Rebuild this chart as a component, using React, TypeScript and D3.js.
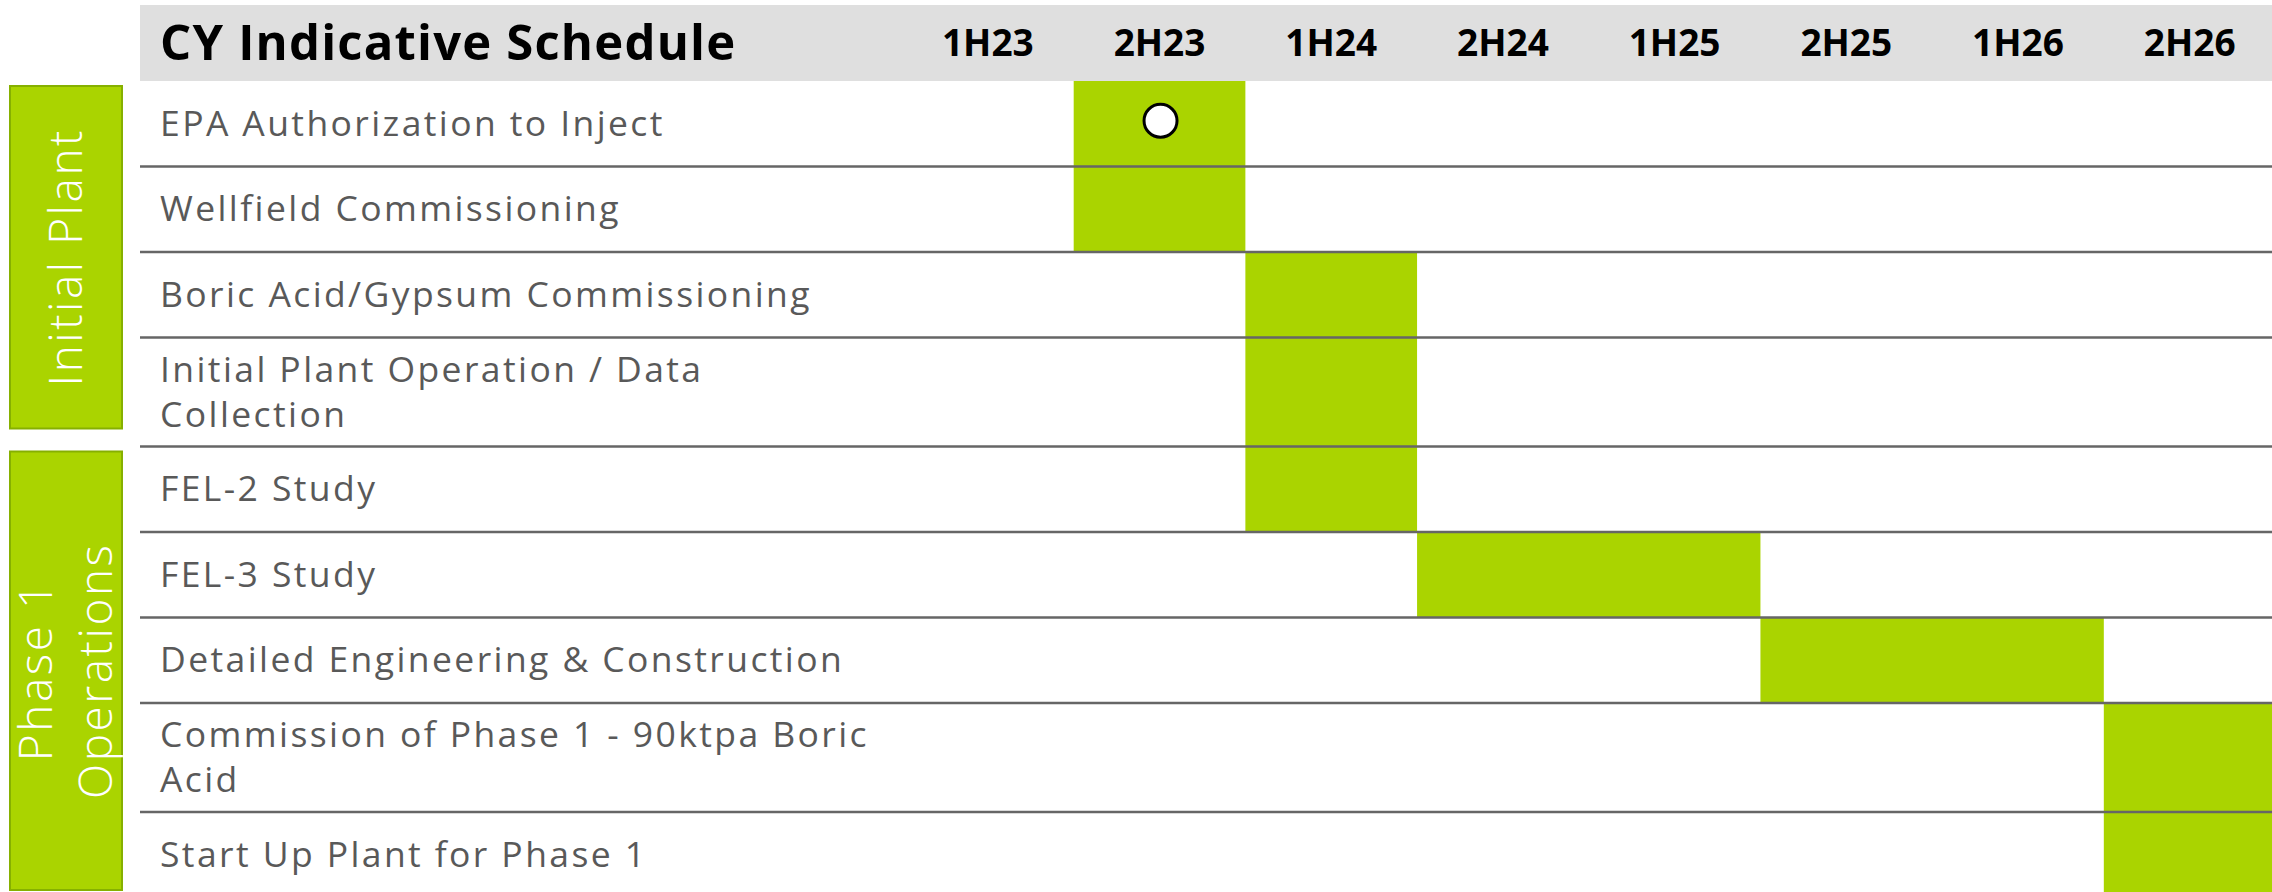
import React, { useRef, useEffect } from "react";
import * as d3 from "d3";

// periods on the timeline (header tick labels)
const periods = ["1H23", "2H23", "1H24", "2H24", "1H25", "2H25", "1H26", "2H26"];

// tasks, one row each
const taskLabels = [
  ["EPA Authorization to Inject"],
  ["Wellfield Commissioning"],
  ["Boric Acid/Gypsum Commissioning"],
  ["Initial Plant Operation / Data", "Collection"],
  ["FEL-2 Study"],
  ["FEL-3 Study"],
  ["Detailed Engineering & Construction"],
  ["Commission of Phase 1 - 90ktpa Boric", "Acid"],
  ["Start Up Plant for Phase 1"],
];
const taskStart = ["2H23", "2H23", "1H24", "1H24", "1H24", "2H24", "2H25", "2H26", "2H26"];
const taskEnd = ["2H23", "2H23", "1H24", "1H24", "1H24", "1H25", "1H26", "2H26", "2H26"];
const milestones = [true, false, false, false, false, false, false, false, false];

// phase groups on the left
const groupLabels = [["Initial Plant"], ["Phase 1", "Operations"]];
const groupFirst = [0, 4];
const groupLast = [3, 8];

const title = "CY Indicative Schedule";

const W = 2272,
  H = 892;
const GREEN = "#aad400";
const FONT = "'Open Sans', 'Noto Sans', sans-serif";

const App = () => {
  const svgRef = useRef<SVGSVGElement>(null);

  useEffect(() => {
    const svg = d3.select(svgRef.current);
    svg.selectAll("*").remove();

    const headerTop = 5,
      headerBottom = 81,
      tableLeft = 140,
      labelX = 160;

    // row heights depend on how many text lines
    const heights = taskLabels.map((l) => (l.length > 1 ? 109 : 85.5));
    const tops = heights.map((_, i) => headerBottom + d3.sum(heights.slice(0, i)));

    const x = d3.scaleBand().domain(periods).range([902, 2275.5]).padding(0);

    // header band
    svg
      .append("rect")
      .attr("x", tableLeft)
      .attr("y", headerTop)
      .attr("width", W - tableLeft)
      .attr("height", headerBottom - headerTop)
      .attr("fill", "#dfdfdf");

    svg
      .append("text")
      .attr("x", labelX)
      .attr("y", 60)
      .attr("font-family", FONT)
      .attr("font-weight", 700)
      .attr("font-size", 49)
      .attr("letter-spacing", 1.2)
      .attr("fill", "#000")
      .text(title);

    svg
      .append("g")
      .selectAll("text")
      .data(periods)
      .join("text")
      .attr("x", (d) => x(d)! + x.bandwidth() / 2)
      .attr("y", 56)
      .attr("text-anchor", "middle")
      .attr("font-family", FONT)
      .attr("font-weight", 700)
      .attr("font-size", 37)
      .attr("fill", "#000")
      .text((d) => d);

    // bars
    svg
      .append("g")
      .selectAll("rect")
      .data(taskLabels)
      .join("rect")
      .attr("x", (_, i) => x(taskStart[i])!)
      .attr("y", (_, i) => tops[i])
      .attr("width", (_, i) => x(taskEnd[i])! + x.bandwidth() - x(taskStart[i])!)
      .attr("height", (_, i) => heights[i])
      .attr("fill", GREEN);

    // row separators
    svg
      .append("g")
      .selectAll("line")
      .data(taskLabels)
      .join("line")
      .attr("x1", tableLeft)
      .attr("x2", W)
      .attr("y1", (_, i) => tops[i] + heights[i])
      .attr("y2", (_, i) => tops[i] + heights[i])
      .attr("stroke", "#666")
      .attr("stroke-width", 2.5);

    // milestone markers
    svg
      .append("g")
      .selectAll("circle")
      .data(taskLabels.map((_, i) => i).filter((i) => milestones[i]))
      .join("circle")
      .attr("cx", (i) => x(taskStart[i])! + x.bandwidth() / 2 + 1)
      .attr("cy", (i) => tops[i] + heights[i] / 2 - 3)
      .attr("r", 16.5)
      .attr("fill", "#fff")
      .attr("stroke", "#000")
      .attr("stroke-width", 3);

    // task labels
    const labels = svg
      .append("g")
      .selectAll("text")
      .data(taskLabels)
      .join("text")
      .attr("font-family", FONT)
      .attr("font-size", 35.5)
      .attr("letter-spacing", 2.4)
      .attr("fill", "#595959");
    labels
      .selectAll("tspan")
      .data((d, i) => d.map((t, j) => ({ t, j, n: d.length, i })))
      .join("tspan")
      .attr("x", labelX)
      .attr("y", (d) => {
        const c = tops[d.i] + heights[d.i] / 2;
        return d.n > 1 ? c - 10.5 + d.j * 45 : c + 12;
      })
      .text((d) => d.t);

    // phase group boxes
    groupLabels.forEach((lines, g) => {
      const top = tops[groupFirst[g]] + 5;
      const end = tops[groupLast[g]] + heights[groupLast[g]];
      const bottom = g === groupLabels.length - 1 ? H - 2 : end - 18;
      svg
        .append("rect")
        .attr("x", 10)
        .attr("y", top)
        .attr("width", 112)
        .attr("height", bottom - top)
        .attr("fill", GREEN)
        .attr("stroke", "#86b000")
        .attr("stroke-width", 2);
      const cx = 66,
        cy = (top + bottom) / 2;
      const lineGap = 60;
      const t = svg
        .append("text")
        .attr("transform", `translate(${cx},${cy}) rotate(-90)`)
        .attr("text-anchor", "middle")
        .attr("font-family", FONT)
        .attr("font-weight", 300)
        .attr("font-size", 46)
        .attr("letter-spacing", 2.5)
        .attr("fill", "#fff");
      lines.forEach((l, j) => {
        t.append("tspan")
          .attr("x", 0)
          .attr("y", 16 + (j - (lines.length - 1) / 2) * lineGap)
          .text(l);
      });
    });
  }, []);

  return (
    <svg
      ref={svgRef}
      width={W}
      height={H}
      style={{ position: "absolute", top: 0, left: 0, background: "#fff", display: "block" }}
    ></svg>
  );
};

export default App;
